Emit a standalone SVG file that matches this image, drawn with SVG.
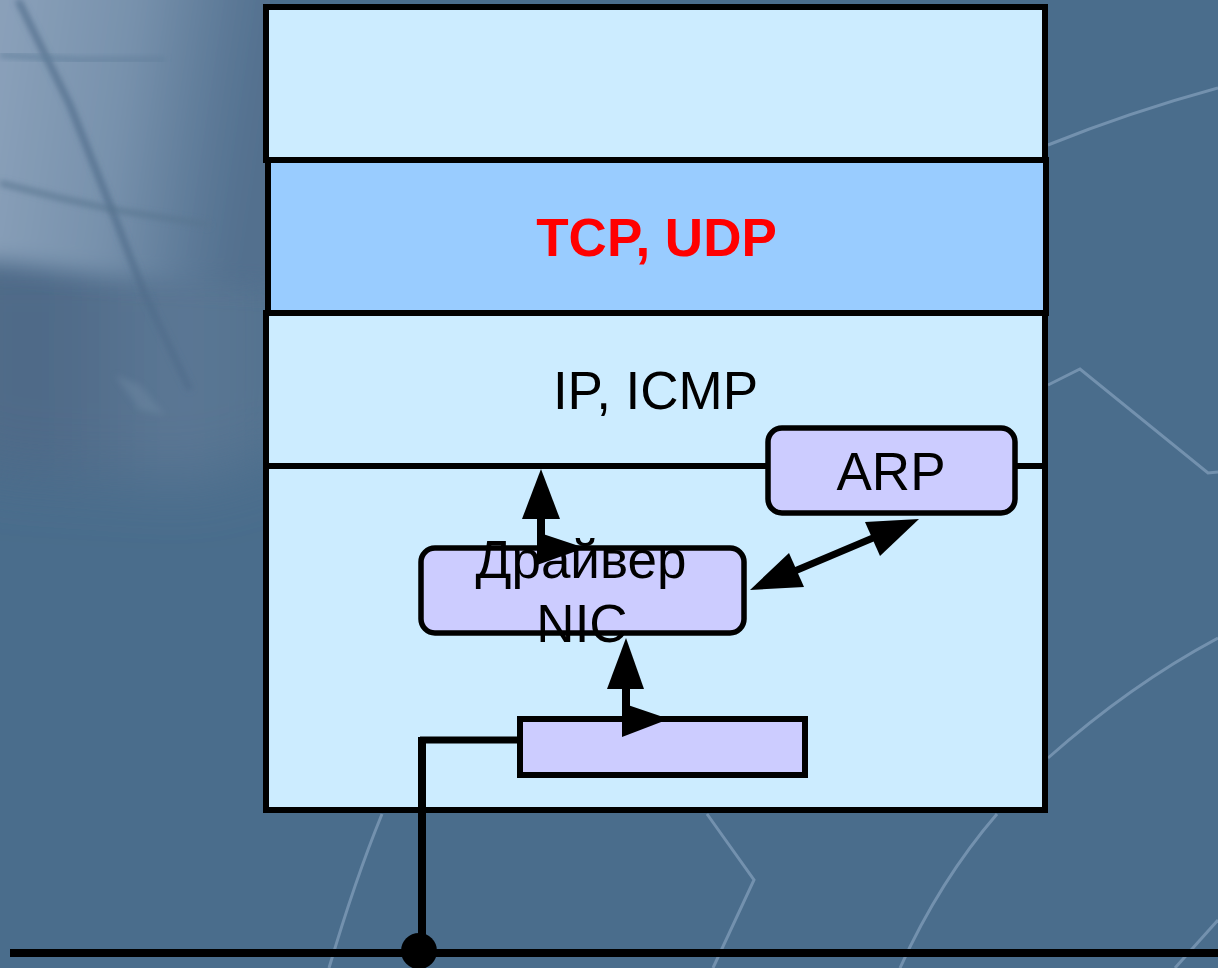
<svg xmlns="http://www.w3.org/2000/svg" width="1218" height="968" viewBox="0 0 1218 968">
<style>
.bar{fill:#ccecff;stroke:#000;stroke-width:6}
.box{fill:#ccccff;stroke:#000;stroke-width:5.5}
.ln{fill:none;stroke:#000}
.t{font-family:"Liberation Sans",Arial,sans-serif;font-size:53px;fill:#000;text-anchor:middle}
.arc{fill:none;stroke:#7391ae;stroke-width:3}
</style>
<defs>
<linearGradient id="gl" x1="0" x2="270" y1="0" y2="40" gradientUnits="userSpaceOnUse">
<stop offset="0" stop-color="#8ba1ba"/><stop offset=".5" stop-color="#7791ac"/><stop offset=".85" stop-color="#5b7896"/><stop offset="1" stop-color="#53708e"/>
</linearGradient>
<linearGradient id="gm" x1="60" x2="270" y1="0" y2="0" gradientUnits="userSpaceOnUse">
<stop offset="0" stop-color="#4f6a88"/><stop offset=".55" stop-color="#5c7895"/><stop offset="1" stop-color="#54728f"/>
</linearGradient>
<filter id="b1" x="-30%" y="-30%" width="160%" height="160%"><feGaussianBlur stdDeviation="11"/></filter>
<filter id="b2" x="-30%" y="-30%" width="160%" height="160%"><feGaussianBlur stdDeviation="3"/></filter>
<filter id="b3" x="-30%" y="-30%" width="160%" height="160%"><feGaussianBlur stdDeviation="30"/></filter>
<clipPath id="tl"><rect width="270" height="560"/></clipPath>
</defs>
<g id="background">
<rect width="1218" height="968" fill="#4a6d8c"/>
<g clip-path="url(#tl)">
<path d="M-60 240H300V450L200 480 0 470-60 450Z" fill="url(#gm)" filter="url(#b3)"/>
<path d="M-60-60H300V290L120 278 0 262-60 262Z" fill="url(#gl)" filter="url(#b1)"/>
<path d="M115 375L140 385 165 415 140 410Z" fill="#6d87a1" filter="url(#b2)" opacity=".5"/>
<path d="M18 0L70 105 110 205 145 295 190 390" fill="none" stroke="#4f6c8a" stroke-width="5" filter="url(#b2)"/>
<path d="M0 55L80 60 165 60" fill="none" stroke="#617f9b" stroke-width="4" filter="url(#b2)"/>
<path d="M0 183L60 198 115 210 210 225" fill="none" stroke="#58758f" stroke-width="4" filter="url(#b2)"/>
</g>
<path class="arc" d="M1048 145Q1130 112 1218 88"/>
<path class="arc" d="M1048 385L1080 369 1208 473 1218 472"/>
<path class="arc" d="M1048 758Q1130 685 1218 638"/>
<path class="arc" d="M382 814Q355 880 329 968"/>
<path class="arc" d="M707 814L754 880 713 968"/>
<path class="arc" d="M997 814Q940 880 900 968"/>
<path class="arc" d="M1218 920L1175 968" stroke-width="4"/>
</g>
<g id="layer-top"><rect class="bar" x="266" y="7" width="779" height="153"/></g>
<g id="layer-ip"><rect class="bar" x="266" y="313" width="779" height="497"/>
<path class="ln" stroke-width="6" d="M266 466H1045"/>
<text class="t" x="655.5" y="409">IP, ICMP</text></g>
<g id="layer-tcp"><rect x="268" y="160" width="778" height="153" fill="#99ccff" stroke="#000" stroke-width="6"/>
<text class="t" x="656.5" y="256" style="font-weight:700;fill:#f00">TCP, UDP</text></g>
<g id="arp"><rect class="box" x="768" y="428" width="247" height="85" rx="14"/>
<text class="t" x="891" y="490">ARP</text></g>
<g id="driver"><rect class="box" x="421" y="548" width="323" height="85" rx="14"/></g>
<g id="nic"><rect x="520" y="719" width="285" height="56" fill="#ccccff" stroke="#000" stroke-width="6"/></g>
<g id="connectors">
<path class="ln" stroke-width="8" d="M541 510V548"/>
<polygon points="541,469 522,519 560,519"/>
<polygon points="537,532 585,548 537,565"/>
<path class="ln" stroke-width="8" d="M626 680V719"/>
<polygon points="626,638 607,689 644,689"/>
<polygon points="622,703 669,719 622,737"/>
<path class="ln" stroke-width="7" d="M790 573L880 535"/>
<polygon points="750,590 789,553 804,587"/>
<polygon points="919,519 865,522 880,556"/>
<path class="ln" stroke-width="7" d="M420 740H520"/>
<path class="ln" stroke-width="8" d="M422 737V945"/>
<path class="ln" stroke-width="8" d="M10 953H1218"/>
<circle cx="419" cy="951" r="18"/>
</g>
<g id="driver-label"><text class="t" x="581" y="578">Драйвер</text><text class="t" x="582" y="642">NIC</text></g>
</svg>
